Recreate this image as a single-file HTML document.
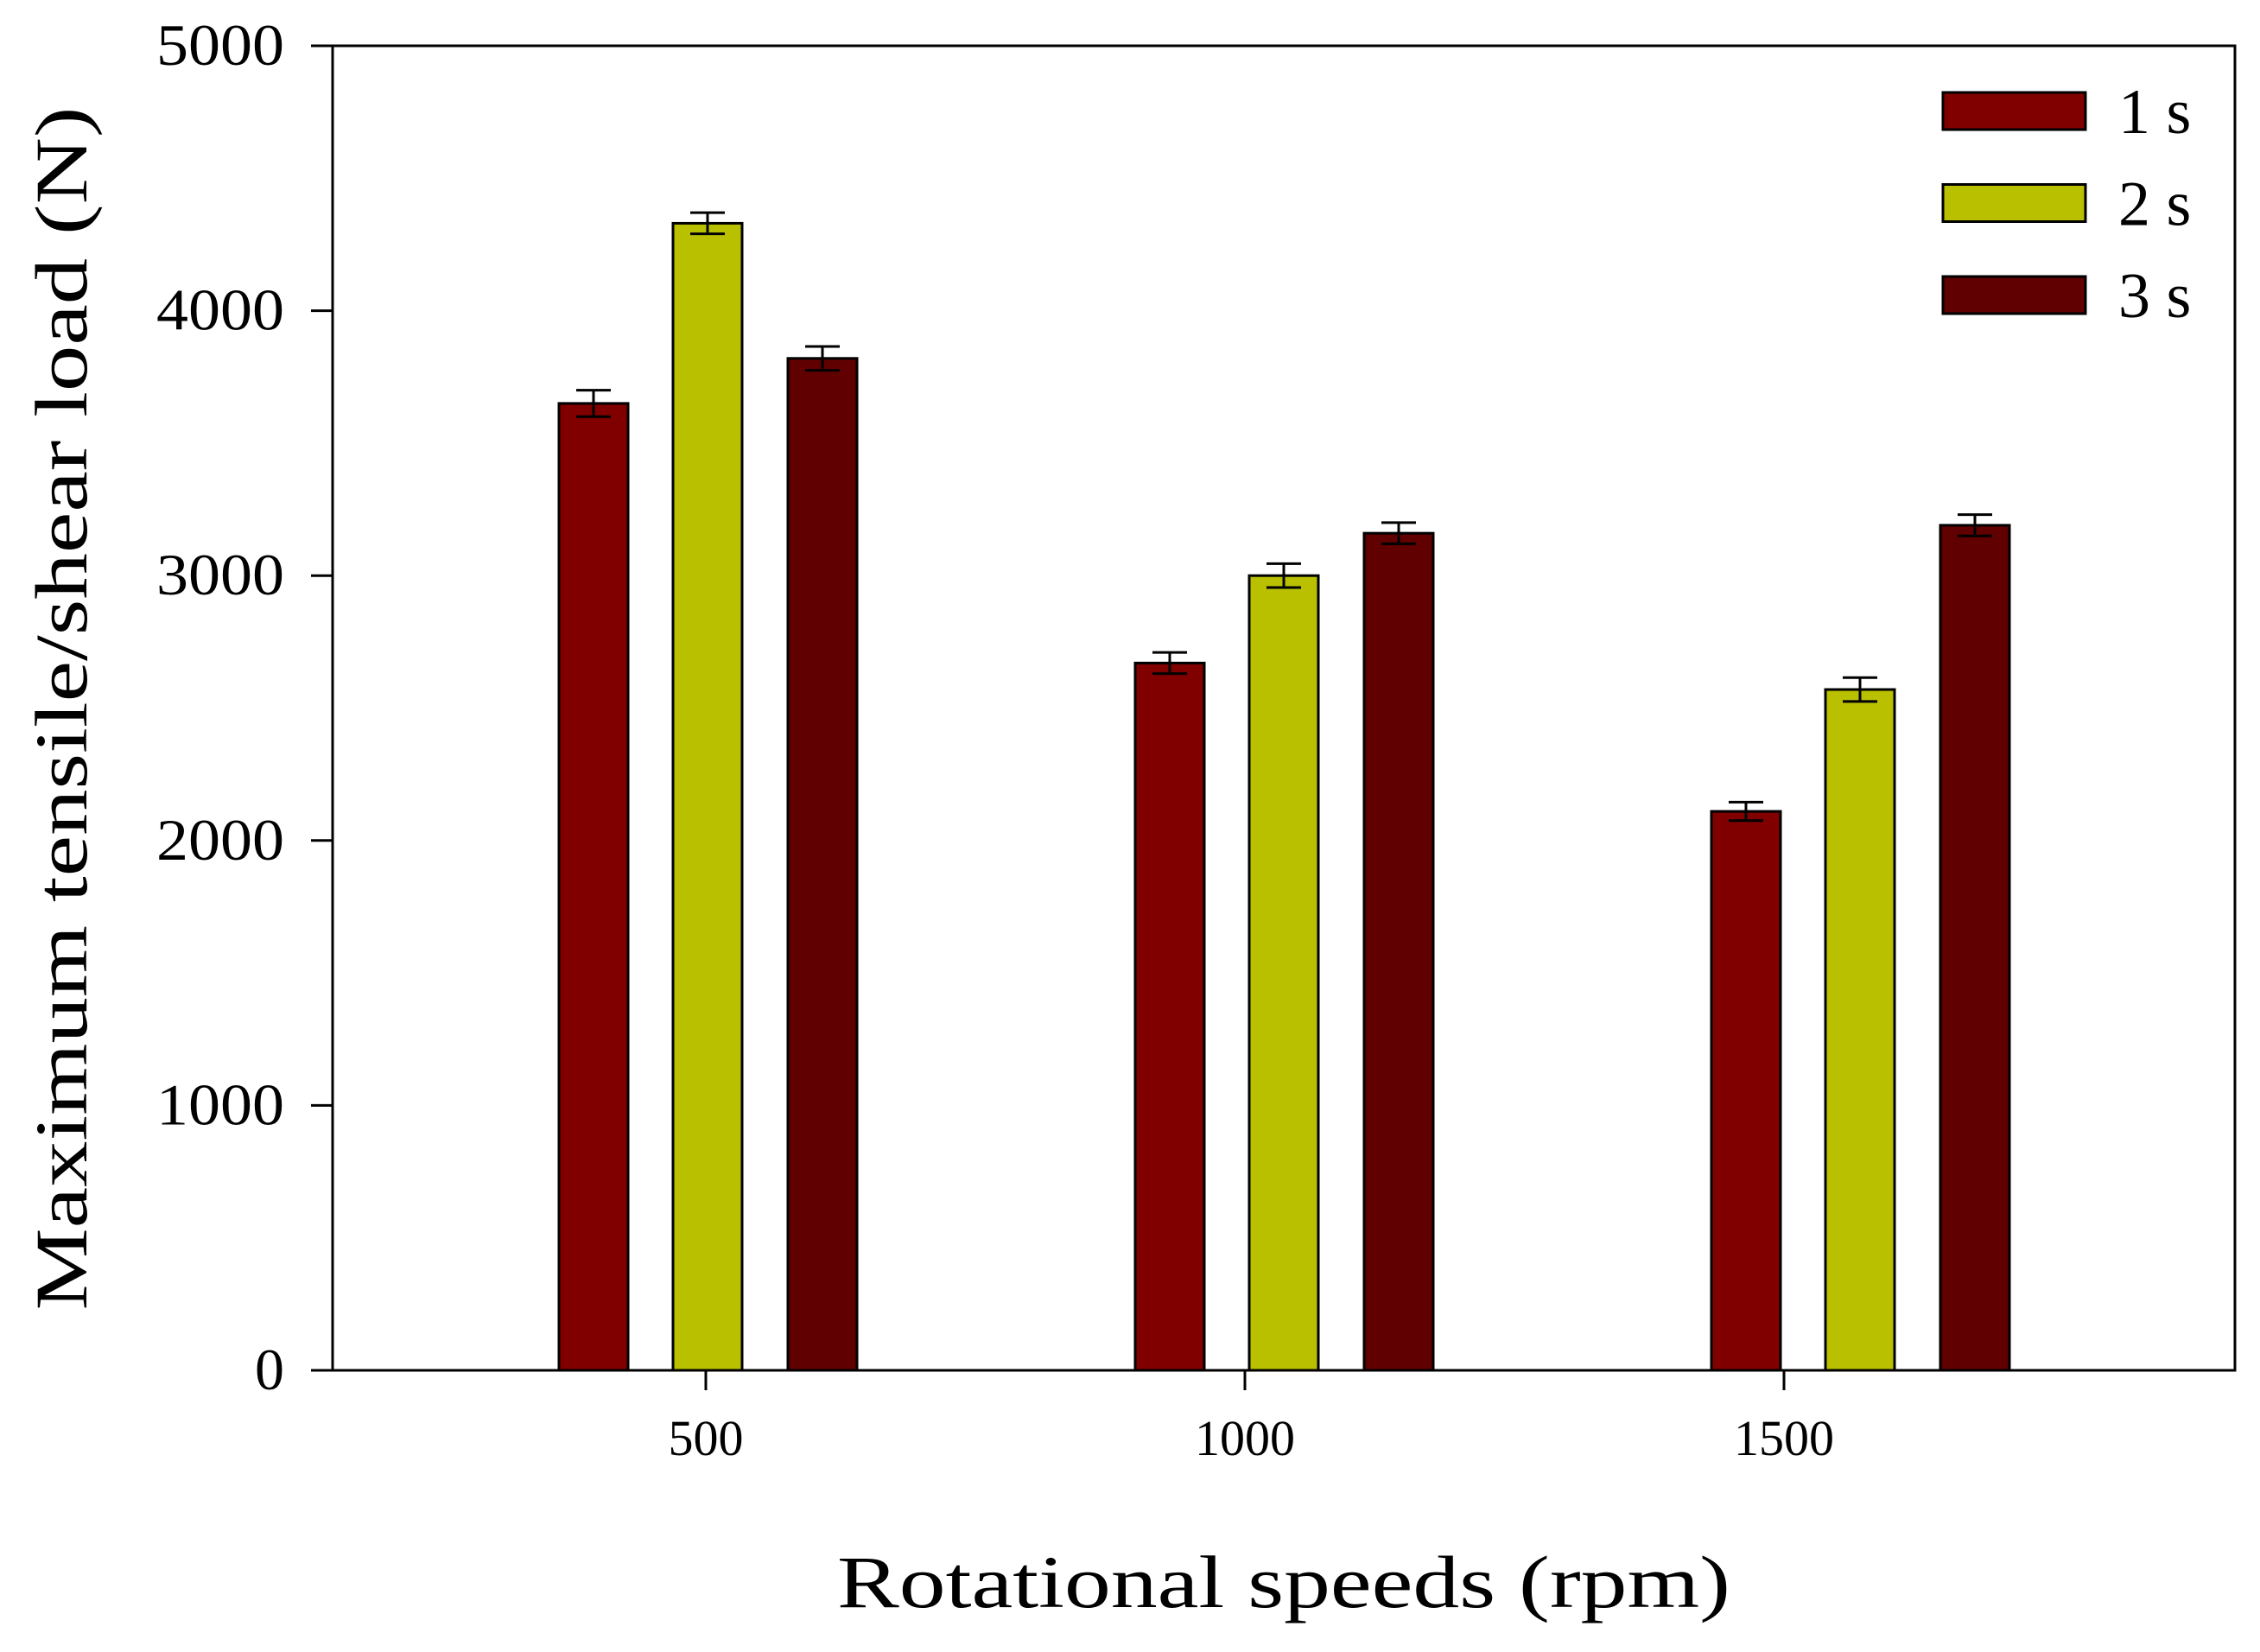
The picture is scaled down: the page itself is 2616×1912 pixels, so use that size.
<!DOCTYPE html>
<html><head><meta charset="utf-8"><style>html,body{margin:0;padding:0;background:#fff}svg{display:block}</style></head>
<body>
<svg id="chart" width="2616" height="1912" viewBox="0 0 2616 1912" xmlns="http://www.w3.org/2000/svg" font-family="'Liberation Serif', serif">
<rect x="385" y="53" width="2202" height="1533" fill="#fff" stroke="#000" stroke-width="3"/>
<g id="bars"></g>
<g id="axes"></g>
<text x="0" y="0" transform="translate(100,820) rotate(-90)" text-anchor="middle" font-size="86" textLength="1393" lengthAdjust="spacingAndGlyphs">Maximum tensile/shear load (N)</text>
<text x="1486" y="1860" text-anchor="middle" font-size="86" textLength="1034" lengthAdjust="spacingAndGlyphs">Rotational speeds (rpm)</text>
<g id="legend"></g>
</svg>
<script>
const categories = ['500', '1000', '1500'];
const seriesNames = ['1 s', '2 s', '3 s'];
const series1 = [3650, 2670, 2110];
const series2 = [4330, 3000, 2570];
const series3 = [3820, 3160, 3190];
const err1 = [50, 40, 35];
const err2 = [40, 45, 45];
const err3 = [45, 40, 40];
const yTicks = [0, 1000, 2000, 3000, 4000, 5000];
const xTicks = [500, 1000, 1500];
const colors = ['#800000', '#b8c000', '#600000'];

const NS = 'http://www.w3.org/2000/svg';
const plotL = 385, plotR = 2587, plotT = 53, plotB = 1586;
function yScale(v){ return plotB - (v/5000)*(plotB-plotT); }
function groupX(i){ return 819 + i*667; }
function xTickScale(v){ return 817 + (v-500)/500*624; }
function mk(tag, attrs, parent){ const e=document.createElementNS(NS,tag); for(const k in attrs) e.setAttribute(k, attrs[k]); parent.appendChild(e); return e; }

const bars = document.getElementById('bars');
const allS = [series1, series2, series3];
const allE = [err1, err2, err3];
const offs = [-132, 0, 133];
const bw = 80;
categories.forEach((c, i) => {
  allS.forEach((s, j) => {
    const cx = groupX(i) + offs[j];
    const y = yScale(s[i]);
    const r = mk('rect', {x: cx-bw/2, y: y, width: bw, height: plotB - y, fill: colors[j], stroke: '#000', 'stroke-width': 3}, bars);
    
    
    const yt = yScale(s[i] + allE[j][i]), yb = yScale(s[i] - allE[j][i]);
    const g = mk('g', {stroke: '#000', 'stroke-width': 3}, bars);
    
    
    mk('line', {x1: cx, x2: cx, y1: yt, y2: yb}, g);
    mk('line', {x1: cx-20, x2: cx+20, y1: yt, y2: yt}, g);
    mk('line', {x1: cx-20, x2: cx+20, y1: yb, y2: yb}, g);
  });
});

const axes = document.getElementById('axes');
yTicks.forEach(v => {
  const y = yScale(v);
  const l = mk('line', {x1: plotL-25, x2: plotL, y1: y, y2: y, stroke: '#000', 'stroke-width': 3}, axes);
  
  
  const t = mk('text', {x: 329, y: y + 22, 'text-anchor': 'end', 'font-size': 68}, axes);
  if (String(v).length === 4) { t.setAttribute('textLength', 148); t.setAttribute('lengthAdjust', 'spacingAndGlyphs'); }
  t.textContent = v;
  
  
});
xTicks.forEach(v => {
  const x = xTickScale(v);
  const l = mk('line', {x1: x, x2: x, y1: plotB, y2: plotB+23, stroke: '#000', 'stroke-width': 3}, axes);
  
  
  const t = mk('text', {x: x, y: 1684, 'text-anchor': 'middle', 'font-size': 58}, axes);
  t.textContent = v;
  
  
});

const legend = document.getElementById('legend');
seriesNames.forEach((n, j) => {
  const y = 107 + j*106.5;
  const r = mk('rect', {x: 2249, y: y, width: 165, height: 43, fill: colors[j], stroke: '#000', 'stroke-width': 3}, legend);
  
  
  const t = mk('text', {x: 2452, y: y + 47, 'font-size': 74}, legend);
  t.textContent = n;
  
  
});
</script>
</body></html>
